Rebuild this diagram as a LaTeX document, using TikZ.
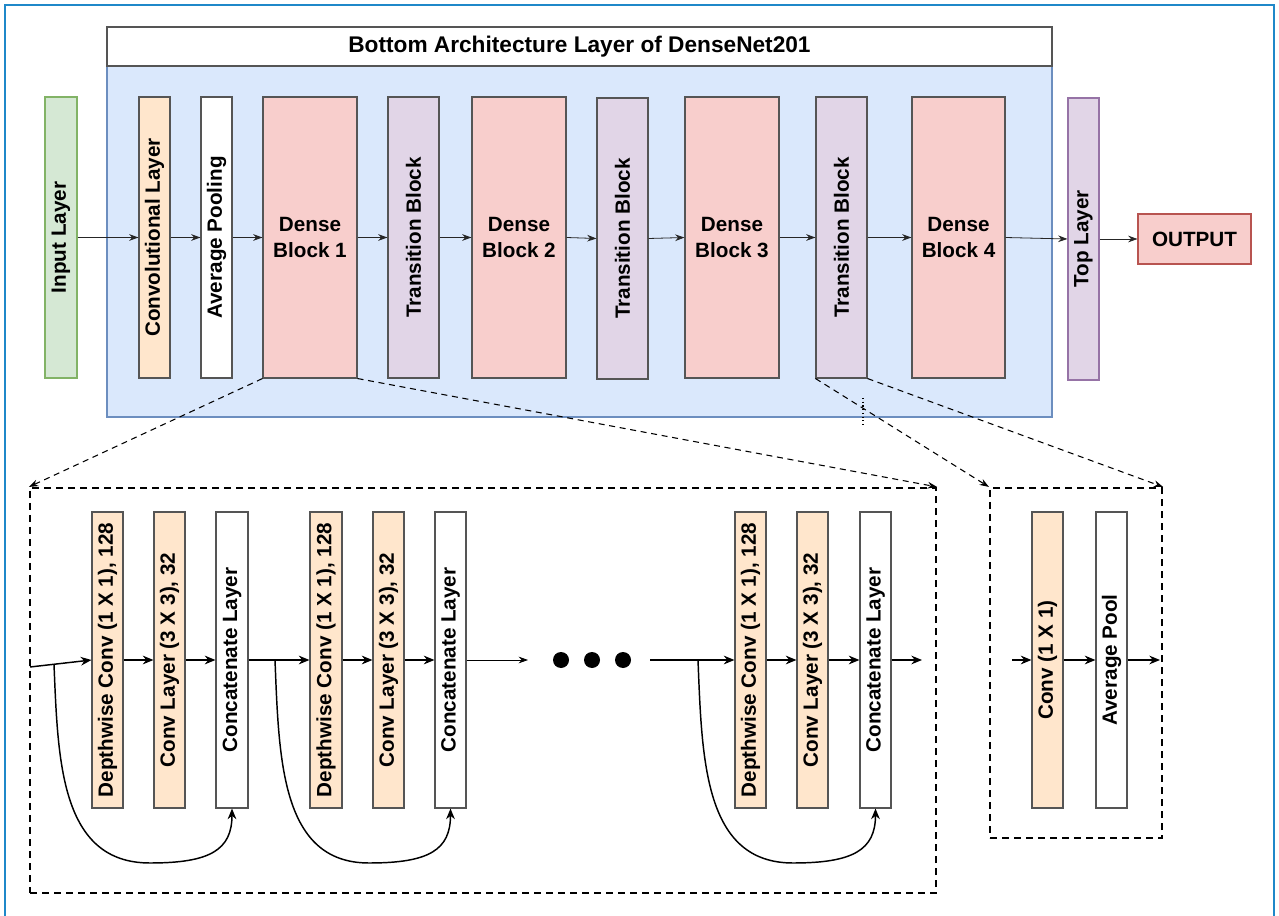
\documentclass[tikz,border=0pt]{standalone}
\usepackage{fontspec}
\setmainfont{Liberation Sans}
\usetikzlibrary{arrows.meta}
\definecolor{frameblue}{HTML}{1F88C9}
\definecolor{bluefill}{HTML}{DAE8FC}
\definecolor{blueline}{HTML}{6C8EBF}
\definecolor{greenfill}{HTML}{D5E8D4}
\definecolor{greenline}{HTML}{82B366}
\definecolor{orangefill}{HTML}{FFE6CC}
\definecolor{redfill}{HTML}{F8CECC}
\definecolor{redline}{HTML}{B85450}
\definecolor{purplefill}{HTML}{E1D5E7}
\definecolor{purpleline}{HTML}{9673A6}
\definecolor{boxline}{HTML}{555555}
\tikzset{
  sz/.style 2 args={minimum width=#1*0.75pt, minimum height=#2*0.75pt},
  blk/.style={draw=boxline, line width=0.8pt, inner sep=0pt, align=center,
    font=\fontsize{15.5}{19}\selectfont\bfseries},
  orangeblk/.style={blk, fill=orangefill},
  whiteblk/.style={blk, fill=white},
  redblk/.style={blk, fill=redfill},
  purpleblk/.style={blk, fill=purplefill},
  toparrow/.style={-{Stealth[length=7pt,width=5pt]}, line width=0.6pt, draw=black!85},
  botarrow/.style={-{Stealth[length=8pt,width=6.5pt]}, line width=1.1pt},
  thinarrow/.style={-{Stealth[length=7pt,width=5pt]}, line width=0.6pt},
  zoomline/.style={-{Stealth[length=7pt,width=5pt]}, line width=0.8pt, dash pattern=on 4.5pt off 3.5pt},
  zoombox/.style={draw, line width=1.6pt, dash pattern=on 5pt off 4pt, inner sep=0pt},
  dotnode/.style={circle, fill=black, inner sep=0pt, minimum size=12pt}
}
\begin{document}
\begin{tikzpicture}[x=0.75pt, y=-0.75pt]
\clip (0,0) rectangle (1279,916);
\fill[white] (0,0) rectangle (1279,916);
\draw[frameblue, line width=2pt] (5,930) -- (5,5) -- (1274,5) -- (1274,930);

% bottom architecture container
\node[draw=blueline, fill=bluefill, line width=0.8pt, sz={945}{351}, inner sep=0pt] (area) at (579.5,241.5) {};
\node[draw=boxline, fill=white, line width=0.8pt, sz={945}{39}, inner sep=0pt,
  font=\fontsize{17}{20}\selectfont\bfseries] (title) at (579.5,46.5) {Bottom Architecture Layer of DenseNet201};

% top row
\node[blk, draw=greenline, fill=greenfill, sz={32}{281}] (inp) at (61,237.5) {\rotatebox{90}{Input Layer}};
\node[orangeblk, sz={31}{281}] (conv) at (154.5,237.5) {\rotatebox{90}{Convolutional Layer}};
\node[whiteblk, sz={31}{281}] (pool) at (216.5,237.5) {\rotatebox{90}{Average Pooling}};
\node[redblk, sz={94}{281}] (db1) at (310,237.5) {Dense\\Block 1};
\node[purpleblk, sz={51}{281}] (tb1) at (413.5,237.5) {\rotatebox{90}{Transition Block}};
\node[redblk, sz={94}{281}] (db2) at (519,237.5) {Dense\\Block 2};
\node[purpleblk, sz={51}{281}] (tb2) at (622.5,238.5) {\rotatebox{90}{Transition Block}};
\node[redblk, sz={94}{281}] (db3) at (732,237.5) {Dense\\Block 3};
\node[purpleblk, sz={51}{281}] (tb3) at (841.5,237.5) {\rotatebox{90}{Transition Block}};
\node[redblk, sz={93}{281}] (db4) at (958.5,237.5) {Dense\\Block 4};
\node[blk, draw=purpleline, fill=purplefill, sz={31}{282}] (top) at (1083.5,239) {\rotatebox{90}{Top Layer}};
\node[blk, draw=redline, fill=redfill, sz={113}{50}] (out) at (1194.5,239) {OUTPUT};

\draw[toparrow] (inp.east) -- (conv.west);
\draw[toparrow] (conv.east) -- (pool.west);
\draw[toparrow] (pool.east) -- (db1.west);
\draw[toparrow] (db1.east) -- (tb1.west);
\draw[toparrow] (tb1.east) -- (db2.west);
\draw[toparrow] (db2.east) -- (tb2.west);
\draw[toparrow] (tb2.east) -- (db3.west);
\draw[toparrow] (db3.east) -- (tb3.west);
\draw[toparrow] (tb3.east) -- (db4.west);
\draw[toparrow] (db4.east) -- (top.west);
\draw[toparrow] (top.east) -- (out.west);

% zoom boxes
\node[zoombox, sz={906}{405}] (dbox) at (483,690.5) {};
\node[zoombox, sz={172}{350}] (tbox) at (1076,663) {};

\draw[zoomline] (db1.south west) -- (dbox.north west);
\draw[zoomline] (db1.south east) -- (dbox.north east);
\draw[zoomline] (tb3.south west) -- (tbox.north west);
\draw[zoomline] (tb3.south east) -- (tbox.north east);
\draw[line width=0.8pt, dotted] (863,398) -- (863,425);

% dense block detail
\node[orangeblk, sz={31}{296}] (d1) at (107.5,660) {\rotatebox{90}{Depthwise Conv (1 X 1), 128}};
\node[orangeblk, sz={31}{296}] (k1) at (169.5,660) {\rotatebox{90}{Conv Layer (3 X 3), 32}};
\node[whiteblk, sz={32}{296}] (c1) at (232,660) {\rotatebox{90}{Concatenate Layer}};
\node[orangeblk, sz={32}{296}] (d2) at (326,660) {\rotatebox{90}{Depthwise Conv (1 X 1), 128}};
\node[orangeblk, sz={31}{296}] (k2) at (388.5,660) {\rotatebox{90}{Conv Layer (3 X 3), 32}};
\node[whiteblk, sz={31}{296}] (c2) at (450.5,660) {\rotatebox{90}{Concatenate Layer}};
\node[orangeblk, sz={31}{296}] (d3) at (750.5,660) {\rotatebox{90}{Depthwise Conv (1 X 1), 128}};
\node[orangeblk, sz={31}{296}] (k3) at (812.5,660) {\rotatebox{90}{Conv Layer (3 X 3), 32}};
\node[whiteblk, sz={31}{296}] (c3) at (875.5,660) {\rotatebox{90}{Concatenate Layer}};

\node[dotnode] (dotA) at (561,660) {};
\node[dotnode] (dotB) at (592,660) {};
\node[dotnode] (dotC) at (623,660) {};

\coordinate (in1) at (30,667);
\coordinate (s1) at (54,664.5);
\coordinate (s2) at (275,660);
\coordinate (gapend) at (528,660);
\coordinate (resume) at (650,660);
\coordinate (s3) at (698,660);
\coordinate (out3) at (922,660);
\coordinate (b1) at (150,863);
\coordinate (b2) at (369,863);
\coordinate (b3) at (793,863);

\draw[botarrow] (in1) -- (d1.west);
\draw[botarrow] (d1.east) -- (k1.west);
\draw[botarrow] (k1.east) -- (c1.west);
\draw[botarrow] (c1.east) -- (d2.west);
\draw[botarrow] (d2.east) -- (k2.west);
\draw[botarrow] (k2.east) -- (c2.west);
\draw[thinarrow] (c2.east) -- (gapend);
\draw[botarrow] (resume) -- (d3.west);
\draw[botarrow] (d3.east) -- (k3.west);
\draw[botarrow] (k3.east) -- (c3.west);
\draw[botarrow] (c3.east) -- (out3);

\draw[botarrow] (s1) .. controls (58,760) and (60,863) .. (b1)
  .. controls (210,863) and (232,850) .. (c1.south);
\draw[botarrow] (s2) .. controls (279,760) and (281,863) .. (b2)
  .. controls (429,863) and (450.5,850) .. (c2.south);
\draw[botarrow] (s3) .. controls (702,760) and (704,863) .. (b3)
  .. controls (853,863) and (875.5,850) .. (c3.south);

% transition block detail
\node[orangeblk, sz={31}{296}] (tc) at (1047.5,660) {\rotatebox{90}{Conv (1 X 1)}};
\node[whiteblk, sz={31}{296}] (tp) at (1111.5,660) {\rotatebox{90}{Average Pool}};
\coordinate (tin) at (1012,660);
\coordinate (tout) at (1160,660);
\draw[botarrow] (tin) -- (tc.west);
\draw[botarrow] (tc.east) -- (tp.west);
\draw[botarrow] (tp.east) -- (tout);
\end{tikzpicture}
\end{document}
